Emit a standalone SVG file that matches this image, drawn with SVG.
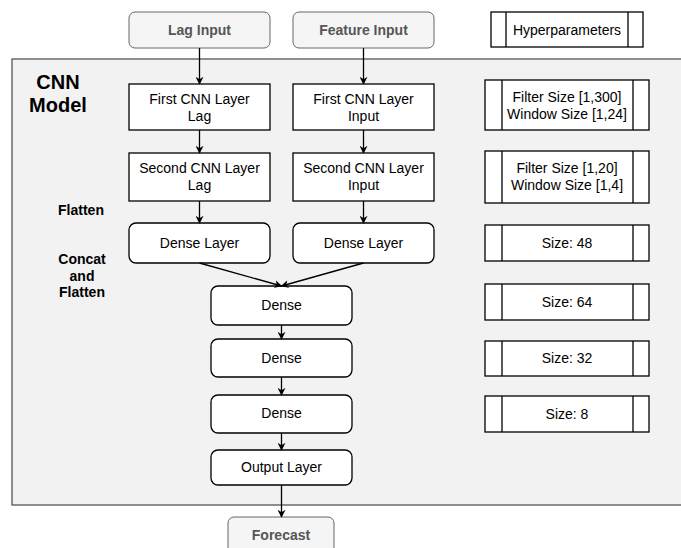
<svg xmlns="http://www.w3.org/2000/svg" width="681" height="548" viewBox="0 0 681 548">
<defs>
<style>
.t{font-family:"Liberation Sans",Arial,sans-serif;font-size:14px;fill:#000;text-anchor:middle}
.b{font-family:"Liberation Sans",Arial,sans-serif;font-weight:bold;text-anchor:middle;fill:#000}
.in{fill:#f5f5f5;stroke:#666;stroke-width:1}
.intext{font-family:"Liberation Sans",Arial,sans-serif;font-weight:bold;font-size:14px;fill:#555;text-anchor:middle}
.box{fill:#fff;stroke:#000;stroke-width:1.3}
.hp{fill:#fff;stroke:#000;stroke-width:1.3}
.conn{stroke:#000;stroke-width:1.3;fill:none;marker-end:url(#arr)}
</style>
<marker id="arr" viewBox="0 0 10 10" refX="9" refY="5" markerWidth="8" markerHeight="8" markerUnits="userSpaceOnUse" orient="auto">
<path d="M0,0 L10,5 L0,10 L3,5 z" fill="#000"/>
</marker>
</defs>
<g id="container">
<rect x="12" y="59" width="680" height="446" fill="#f2f2f2" stroke="#555" stroke-width="1.3"/>
<text class="b" font-size="20" x="58" y="89">CNN</text>
<text class="b" font-size="20" x="58" y="112">Model</text>
<text class="b" font-size="14" x="81" y="215">Flatten</text>
<text class="b" font-size="14" x="82" y="264">Concat</text>
<text class="b" font-size="14" x="82" y="281">and</text>
<text class="b" font-size="14" x="82" y="297">Flatten</text>
</g>
<g id="lag-input"><rect class="in" x="129" y="12" width="141" height="36" rx="6"/><text class="intext" x="199.5" y="35">Lag Input</text></g>
<g id="feature-input"><rect class="in" x="293" y="12" width="141" height="36" rx="6"/><text class="intext" x="363.5" y="35">Feature Input</text></g>
<g id="hyperparameters"><rect class="hp" x="491" y="12" width="152" height="35"/><line x1="506" y1="12" x2="506" y2="47" stroke="#000" stroke-width="1.3"/><line x1="628" y1="12" x2="628" y2="47" stroke="#000" stroke-width="1.3"/><text class="t" x="567" y="35">Hyperparameters</text></g>
<g id="first-cnn-lag"><rect class="box" x="129" y="84" width="141" height="46"/><text class="t" x="199.5" y="104">First CNN Layer</text><text class="t" x="199.5" y="121">Lag</text></g>
<g id="first-cnn-input"><rect class="box" x="293" y="84" width="141" height="46"/><text class="t" x="363.5" y="104">First CNN Layer</text><text class="t" x="363.5" y="121">Input</text></g>
<g id="hp1"><rect class="hp" x="485" y="80" width="164" height="50"/><line x1="502" y1="80" x2="502" y2="130" stroke="#000" stroke-width="1.3"/><line x1="633" y1="80" x2="633" y2="130" stroke="#000" stroke-width="1.3"/><text class="t" x="567" y="102">Filter Size [1,300]</text><text class="t" x="567" y="119">Window Size [1,24]</text></g>
<g id="second-cnn-lag"><rect class="box" x="129" y="153" width="141" height="48"/><text class="t" x="199.5" y="173">Second CNN Layer</text><text class="t" x="199.5" y="190">Lag</text></g>
<g id="second-cnn-input"><rect class="box" x="293" y="153" width="141" height="48"/><text class="t" x="363.5" y="173">Second CNN Layer</text><text class="t" x="363.5" y="190">Input</text></g>
<g id="hp2"><rect class="hp" x="485" y="151" width="164" height="52"/><line x1="502" y1="151" x2="502" y2="203" stroke="#000" stroke-width="1.3"/><line x1="633" y1="151" x2="633" y2="203" stroke="#000" stroke-width="1.3"/><text class="t" x="567" y="173">Filter Size [1,20]</text><text class="t" x="567" y="190">Window Size [1,4]</text></g>
<g id="dense-lag"><rect class="box" x="129" y="223" width="141" height="40" rx="7"/><text class="t" x="199.5" y="248">Dense Layer</text></g>
<g id="dense-input"><rect class="box" x="293" y="223" width="141" height="40" rx="7"/><text class="t" x="363.5" y="248">Dense Layer</text></g>
<g id="hp3"><rect class="hp" x="485" y="225" width="164" height="36"/><line x1="502" y1="225" x2="502" y2="261" stroke="#000" stroke-width="1.3"/><line x1="633" y1="225" x2="633" y2="261" stroke="#000" stroke-width="1.3"/><text class="t" x="567" y="248">Size: 48</text></g>
<g id="dense1"><rect class="box" x="211" y="286" width="141" height="39" rx="7"/><text class="t" x="281.5" y="310">Dense</text></g>
<g id="hp4"><rect class="hp" x="485" y="284" width="164" height="36"/><line x1="502" y1="284" x2="502" y2="320" stroke="#000" stroke-width="1.3"/><line x1="633" y1="284" x2="633" y2="320" stroke="#000" stroke-width="1.3"/><text class="t" x="567" y="307">Size: 64</text></g>
<g id="dense2"><rect class="box" x="211" y="339" width="141" height="38" rx="7"/><text class="t" x="281.5" y="363">Dense</text></g>
<g id="hp5"><rect class="hp" x="485" y="341" width="164" height="35"/><line x1="502" y1="341" x2="502" y2="376" stroke="#000" stroke-width="1.3"/><line x1="633" y1="341" x2="633" y2="376" stroke="#000" stroke-width="1.3"/><text class="t" x="567" y="363">Size: 32</text></g>
<g id="dense3"><rect class="box" x="211" y="395" width="141" height="38" rx="7"/><text class="t" x="281.5" y="418">Dense</text></g>
<g id="hp6"><rect class="hp" x="485" y="396" width="164" height="36"/><line x1="502" y1="396" x2="502" y2="432" stroke="#000" stroke-width="1.3"/><line x1="633" y1="396" x2="633" y2="432" stroke="#000" stroke-width="1.3"/><text class="t" x="567" y="419">Size: 8</text></g>
<g id="output-layer"><rect class="box" x="211" y="450" width="141" height="35" rx="7"/><text class="t" x="281.5" y="472">Output Layer</text></g>
<g id="forecast"><rect class="in" x="228" y="517" width="106" height="40" rx="6"/><text class="intext" x="281" y="540">Forecast</text></g>
<g id="connectors">
<line class="conn" x1="199.5" y1="48" x2="199.5" y2="84"/>
<line class="conn" x1="363.5" y1="48" x2="363.5" y2="84"/>
<line class="conn" x1="199.5" y1="130" x2="199.5" y2="153"/>
<line class="conn" x1="363.5" y1="130" x2="363.5" y2="153"/>
<line class="conn" x1="199.5" y1="201" x2="199.5" y2="223"/>
<line class="conn" x1="363.5" y1="201" x2="363.5" y2="223"/>
<line class="conn" x1="199.5" y1="263" x2="281.5" y2="286"/>
<line class="conn" x1="363.5" y1="263" x2="281.5" y2="286"/>
<line class="conn" x1="281.5" y1="325" x2="281.5" y2="339"/>
<line class="conn" x1="281.5" y1="377" x2="281.5" y2="395"/>
<line class="conn" x1="281.5" y1="433" x2="281.5" y2="450"/>
<line class="conn" x1="281.5" y1="485" x2="281.5" y2="517"/>
</g>
</svg>
